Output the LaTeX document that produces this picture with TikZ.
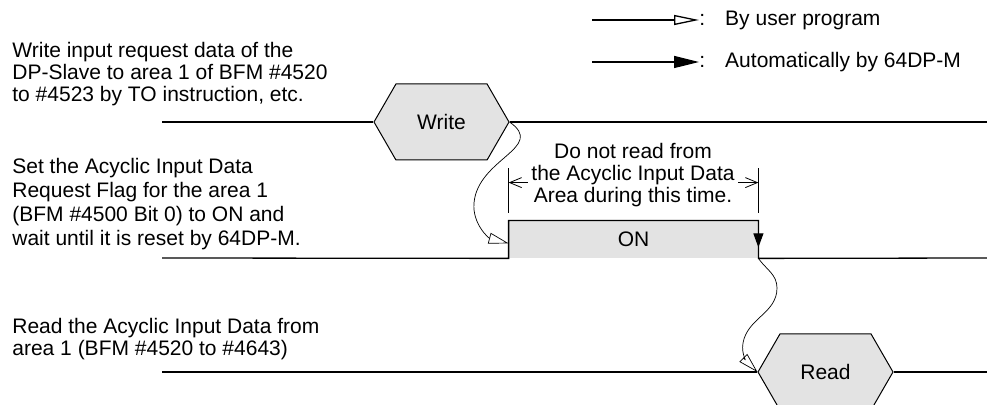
\documentclass[tikz,border=0pt]{standalone}
\usepackage{fontspec}
\setmainfont{Liberation Sans}
\usetikzlibrary{arrows.meta, shapes.symbols}

\begin{document}
\begin{tikzpicture}[x=0.5pt, y=-0.5pt,
  lbl/.style={font=\fontsize{10.5}{11}\selectfont, align=left, inner sep=0pt},
  hexa/.style={signal, signal to=east and west, signal pointer angle=120,
               draw, fill=black!11, line width=0.5pt, inner sep=0pt,
               minimum width=67.5pt, minimum height=38pt,
               font=\fontsize{10.5}{11}\selectfont},
  onbox/.style={fill=black!11, inner sep=0pt,
                minimum width=124.5pt, minimum height=18.5pt,
                font=\fontsize{10.5}{11}\selectfont},
  sig/.style={line width=0.65pt},
  userarr/.style={-{Triangle[open, length=10pt, width=5.5pt]}, line width=0.35pt},
  autoarr/.style={-{Triangle[length=7pt, width=5pt]}, line width=0.5pt},
  userleg/.style={-{Triangle[open, length=12.5pt, width=5pt]}, line width=0.65pt},
  autoleg/.style={-{Triangle[length=12.5pt, width=6pt]}, line width=0.65pt},
  dimarr/.style={{Straight Barb[length=6pt, width=5pt]}-{Straight Barb[length=6pt, width=5pt]},
                 line width=0.4pt}]
  \useasboundingbox (0,0) rectangle (987,405);
  \clip (0,0) rectangle (987,405);

  % legend
  \node[lbl, anchor=west] (lgu) at (699,20) {:\hspace{10pt}By user program};
  \node[lbl, anchor=west] (lga) at (699,62) {:\hspace{10pt}Automatically by 64DP-M};
  \coordinate (lgus) at (592,20);
  \coordinate (lgas) at (592,62);
  \draw[userleg] (lgus) -- (lgu.west);
  \draw[autoleg] (lgas) -- (lga.west);

  % step descriptions
  \node[lbl, anchor=north west] (txtw) at (12,42)
    {Write input request data of the\\DP-Slave to area 1 of BFM \#4520\\to \#4523 by TO instruction, etc.};
  \node[lbl, anchor=north west, font=\fontsize{10.5}{12}\selectfont] (txtf) at (12,158)
    {Set the Acyclic Input Data\\Request Flag for the area 1\\(BFM \#4500 Bit 0) to ON and\\wait until it is reset by 64DP-M.};
  \node[lbl, anchor=north west] (txtr) at (12,318)
    {Read the Acyclic Input Data from\\area 1 (BFM \#4520 to \#4643)};

  % write line
  \coordinate (w0) at (162,122);
  \coordinate (w1) at (987,122);
  \node[hexa] (write) at (441.5,122) {Write};
  \draw[sig] (w0) -- (write.west);
  \draw[sig] (write.east) -- (w1);

  % request flag line
  \coordinate (o0) at (162,258);
  \coordinate (o1) at (987,258);
  \node[onbox] (on) at (633.5,239.5) {ON};
  \draw[sig] (o0) -- (on.south west) |- (on.north east) -- (on.south east) -- (o1);
  \draw[autoarr] ([yshift=-3pt]on.north east) -- ([yshift=5.5pt]on.south east);

  % read line
  \coordinate (r0) at (162,372);
  \coordinate (r1) at (987,372);
  \node[hexa] (read) at (825.5,372) {Read};
  \draw[sig] (r0) -- (read.west);
  \draw[sig] (read.east) -- (r1);

  % no-read period
  \draw[sig] ([yshift=4pt]on.north west) -- ++(0,-45);
  \draw[sig] ([yshift=4pt]on.north east) -- ++(0,-45);
  \draw[dimarr] ([yshift=19pt]on.north west) -- ([yshift=19pt]on.north east);
  \node[lbl, align=center, fill=white, inner sep=1.5pt, anchor=north] (note) at (633,140)
    {Do not read from\\the Acyclic Input Data\\Area during this time.};

  % handshake
  \draw[userarr] (write.east) to[out=-35, in=85, looseness=1.3] (474,203)
    to[out=-95, in=165] ([yshift=7.5pt]on.south west);
  \draw[userarr] (on.south east) to[out=-55, in=90] (777,288)
    to[out=-90, in=80] (743,343) to[out=-100, in=135] (read.west);
\end{tikzpicture}
\end{document}
